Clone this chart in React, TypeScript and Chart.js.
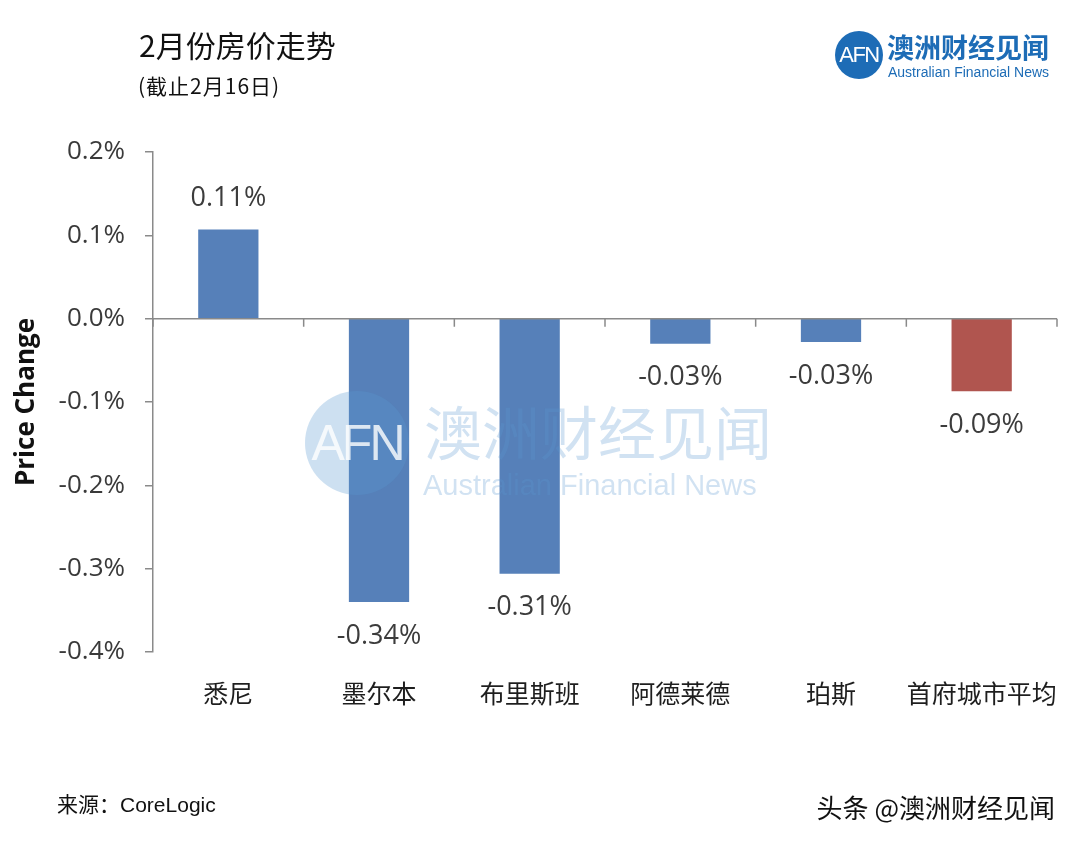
import React, { useEffect, useRef } from 'react';
import { Chart, registerables } from 'chart.js';

Chart.register(...registerables);

const categories = ['悉尼', '墨尔本', '布里斯班', '阿德莱德', '珀斯', '首府城市平均'];
const priceChange = [0.107, -0.34, -0.306, -0.03, -0.028, -0.087];
const barColors = ['#5680B9', '#5680B9', '#5680B9', '#5680B9', '#5680B9', '#B0554F'];
const yMin = -0.4;
const yMax = 0.2;
const yStep = 0.1;

const titleText = '2月份房价走势';
const subtitleText = '(截止2月16日)';
const yAxisTitle = 'Price Change';
const sourceText = '来源：CoreLogic';
const creditText = '头条 @澳洲财经见闻';
const brandCn = '澳洲财经见闻';
const brandEn = 'Australian Financial News';

const AXIS_COLOR = '#8a8a8a';
const NUM_FONT = '"Open Sans", "Noto Sans", sans-serif';
const CJK_FONT = '"Noto Sans CJK SC", "Noto Sans", sans-serif';
const ARIAL_CJK = '"Liberation Sans", "Noto Sans CJK SC", sans-serif';

const zeroAxisPlugin = {
  id: 'zeroAxis',
  afterDatasetsDraw(chart: any) {
    const { ctx, chartArea } = chart;
    const x = chart.scales.x;
    const y = chart.scales.y;
    const y0 = y.getPixelForValue(0);
    ctx.save();
    ctx.strokeStyle = AXIS_COLOR;
    ctx.lineWidth = 1.5;
    ctx.beginPath();
    ctx.moveTo(chartArea.left, y0);
    ctx.lineTo(chartArea.right, y0);
    const n = categories.length;
    for (let i = 0; i <= n; i++) {
      let bx: number;
      if (i === 0) bx = chartArea.left;
      else if (i === n) bx = chartArea.right;
      else bx = (x.getPixelForValue(i - 1) + x.getPixelForValue(i)) / 2;
      ctx.moveTo(bx, y0);
      ctx.lineTo(bx, y0 + 8);
    }
    ctx.stroke();

    // data labels
    const meta = chart.getDatasetMeta(0);
    ctx.fillStyle = '#3c3c3c';
    ctx.font = `27px ${NUM_FONT}`;
    ctx.textAlign = 'center';
    ctx.textBaseline = 'middle';
    meta.data.forEach((bar: any, i: number) => {
      const v = priceChange[i];
      const label = v.toFixed(2) + '%';
      const ly = v >= 0 ? bar.y - 31 : bar.y + 34;
      ctx.fillText(label, bar.x, ly);
    });
    ctx.restore();
  },
};

export default function App() {
  const canvasRef = useRef<HTMLCanvasElement | null>(null);

  useEffect(() => {
    document.body.style.margin = '0';
    const canvas = canvasRef.current;
    if (!canvas) return;
    const chart = new Chart(canvas, {
      type: 'bar',
      data: {
        labels: categories,
        datasets: [
          {
            data: priceChange,
            backgroundColor: barColors,
            borderWidth: 0,
            barPercentage: 0.4,
            categoryPercentage: 1,
          },
        ],
      },
      options: {
        animation: false,
        responsive: false,
        devicePixelRatio: 1,
        layout: { padding: { top: 152, right: 23, bottom: 0, left: 0 } },
        plugins: {
          legend: { display: false },
          tooltip: { enabled: false },
          title: { display: false },
        },
        scales: {
          x: {
            offset: true,
            grid: { display: false },
            border: { display: false },
            ticks: {
              color: '#1e1e1e',
              font: { family: CJK_FONT, size: 25 },
              padding: 18,
              maxRotation: 0,
              autoSkip: false,
            },
            afterFit: (scale: any) => {
              scale.height = 196;
            },
          },
          y: {
            min: yMin,
            max: yMax,
            grid: {
              display: true,
              drawOnChartArea: false,
              drawTicks: true,
              tickLength: 8,
              color: AXIS_COLOR,
              lineWidth: 1.5,
            },
            border: { display: true, color: AXIS_COLOR, width: 1.5 },
            ticks: {
              stepSize: yStep,
              color: '#3a3a3a',
              font: { family: NUM_FONT, size: 26 },
              padding: 20,
              callback: (v: any) => Number(v).toFixed(1) + '%',
            },
            title: {
              display: true,
              text: yAxisTitle,
              color: '#111',
              font: { family: NUM_FONT, size: 26, weight: 'bold' },
              padding: { top: 11, bottom: 0 },
            },
            afterFit: (scale: any) => {
              scale.width = 153;
            },
          },
        },
      },
      plugins: [zeroAxisPlugin],
    });
    return () => chart.destroy();
  }, []);

  const abs = (s: React.CSSProperties): React.CSSProperties => ({ position: 'absolute', whiteSpace: 'nowrap', ...s });

  return (
    <div style={{ position: 'relative', width: 1080, height: 848, background: '#fff', overflow: 'hidden' }}>
      <canvas ref={canvasRef} width={1080} height={848} style={{ position: 'absolute', left: 0, top: 0, width: 1080, height: 848 }} />

      <div style={abs({ left: 139, top: 25, fontFamily: CJK_FONT, fontSize: 30, color: '#111', lineHeight: '38px' })}>{titleText}</div>
      <div style={abs({ left: 138, top: 71, fontFamily: CJK_FONT, fontSize: 21, color: '#111', lineHeight: '28px', letterSpacing: 1 })}>{subtitleText}</div>

      {/* logo */}
      <div style={abs({ left: 835, top: 31, width: 48, height: 48, borderRadius: '50%', background: '#1d6cb6', color: '#fff', fontFamily: '"Liberation Sans", sans-serif', fontSize: 22, lineHeight: '48px', textAlign: 'center', letterSpacing: -1.5 })}>AFN</div>
      <div style={abs({ left: 887, top: 30, fontFamily: CJK_FONT, fontSize: 27, fontWeight: 700, color: '#1d6cb6', lineHeight: '34px' })}>{brandCn}</div>
      <div style={abs({ left: 888, top: 64, fontFamily: '"Liberation Sans", sans-serif', fontSize: 14, color: '#1d6cb6', lineHeight: '16px' })}>{brandEn}</div>

      {/* watermark */}
      <div style={abs({ left: 305, top: 391, width: 104, height: 104, borderRadius: '50%', background: 'rgba(88,152,208,0.3)', color: 'rgba(255,255,255,0.8)', fontFamily: '"Liberation Sans", sans-serif', fontSize: 50, lineHeight: '104px', textAlign: 'center', letterSpacing: -3, pointerEvents: 'none' })}>AFN</div>
      <div style={abs({ left: 424, top: 394, fontFamily: CJK_FONT, fontSize: 58, color: 'rgba(88,152,208,0.28)', lineHeight: '72px', pointerEvents: 'none' })}>{brandCn}</div>
      <div style={abs({ left: 423, top: 467, fontFamily: '"Liberation Sans", sans-serif', fontSize: 29, color: 'rgba(88,152,208,0.28)', lineHeight: '36px', pointerEvents: 'none' })}>{brandEn}</div>

      {/* footer */}
      <div style={abs({ left: 57, top: 791, fontFamily: ARIAL_CJK, fontSize: 21, color: '#111', lineHeight: '28px' })}>{sourceText}</div>
      <div style={abs({ right: 25, top: 790, fontFamily: CJK_FONT, fontSize: 26, color: '#111', lineHeight: '34px' })}>{creditText}</div>
    </div>
  );
}
